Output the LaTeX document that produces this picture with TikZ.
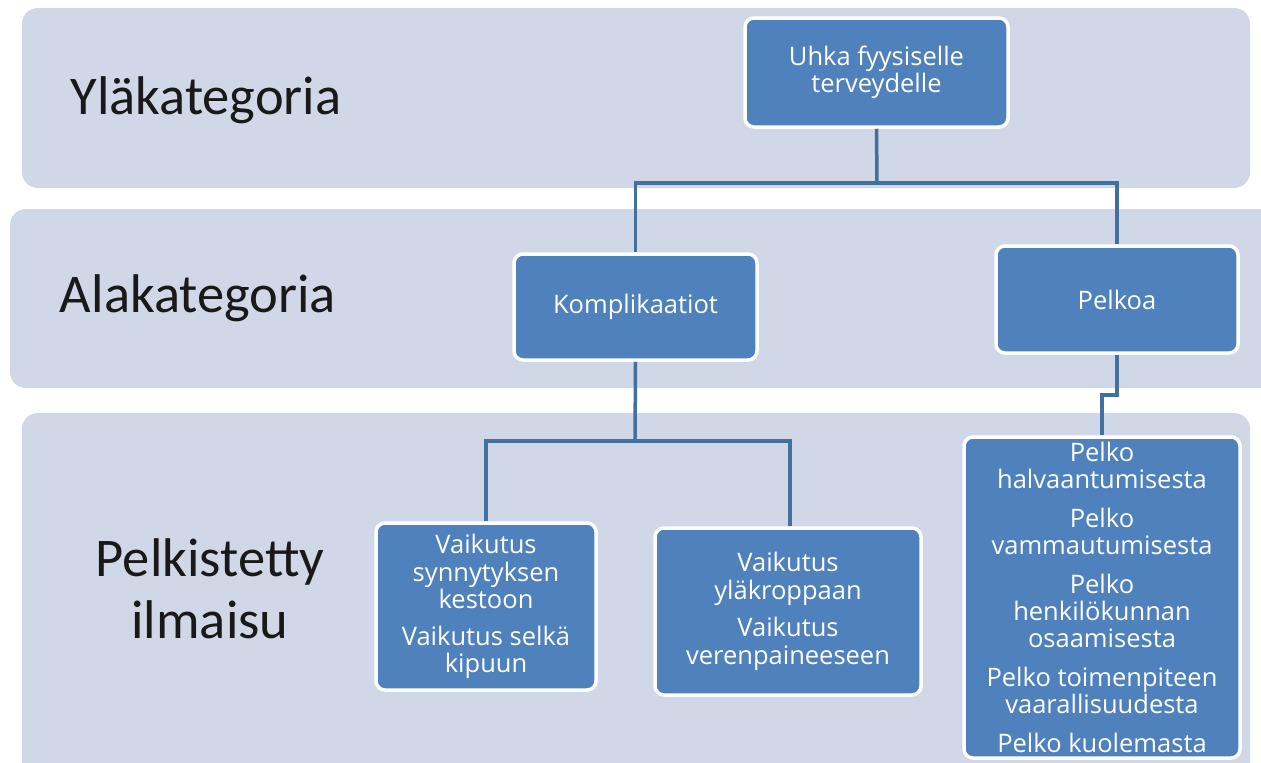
\documentclass[tikz,border=0pt]{standalone}
\usepackage{fontspec}
\setmainfont{Carlito}
\newfontfamily\boxfont{Open Sans}
\definecolor{band}{HTML}{D0D8E8}
\definecolor{boxblue}{HTML}{4F81BD}
\definecolor{conn}{HTML}{41719C}
\begin{document}
\begin{tikzpicture}[x=1pt,y=-1pt,
  bandstyle/.style={fill=band,draw=none,rounded corners=16pt},
  lvl/.style={font=\fontsize{54.5}{62}\selectfont,text=black!90,align=center,inner sep=0},
  bbox/.style={fill=boxblue,draw=white,line width=3.5pt,rounded corners=9pt,inner sep=0,
    text=white,align=center,font=\boxfont\fontsize{25.5}{27.5}\selectfont},
  link/.style={draw=conn,line width=3.5pt}]
\useasboundingbox (0,0) rectangle (1261,763);
\clip (0,0) rectangle (1261,763);
\fill[white] (0,0) rectangle (1261,763);
% bands
\path[bandstyle] (22,8) rectangle (1250,188);
\path[bandstyle] (10,209) rectangle (1285,388);
\path[bandstyle] (22,413) rectangle (1250,800);
% level labels
\node[lvl] (l1) at (206,100) {Yläkategoria};
\node[lvl] (l2) at (198,298) {Alakategoria};
\node[lvl,text width=300pt] (l3) at (210,589) {Pelkistetty\\ilmaisu};
% boxes
\node[bbox,minimum width=263pt,minimum height=109pt] (top) at (876.5,72.5) {Uhka fyysiselle\\terveydelle};
\node[bbox,minimum width=243pt,minimum height=106pt] (kom) at (635.5,307) {Komplikaatiot};
\node[bbox,minimum width=242pt,minimum height=107pt] (pel) at (1117,299.5) {Pelkoa};
\node[bbox,minimum width=220pt,minimum height=167pt] (b1) at (486,606.5)
  {Vaikutus\\synnytyksen\\kestoon\\[9pt]Vaikutus selkä\\kipuun};
\node[bbox,minimum width=266pt,minimum height=167pt] (b2) at (788,611.5)
  {Vaikutus\\yläkroppaan\\[10pt]Vaikutus\\verenpaineeseen};
\node[bbox,minimum width=276pt,minimum height=321pt] (b3) at (1102,597.5) {};
\node[text=white,align=center,inner sep=0,font=\boxfont\fontsize{25.5}{27}\selectfont] (b3t) at (b3.center)
  {Pelko\\halvaantumisesta\\[12pt]Pelko\\vammautumisesta\\[12pt]Pelko\\henkilökunnan\\osaamisesta\\[12pt]Pelko toimenpiteen\\vaarallisuudesta\\[12pt]Pelko kuolemasta};
% connectors
\coordinate (j1) at (877,183);
\coordinate (j2) at (635,441);
\draw[link] (top.south) -- (j1);
\draw[link] (kom.north) |- (j1) -| (pel.north);
\draw[link] (kom.south) -- (j2);
\draw[link] (b1.north) |- (j2) -| (b2.north -| 790,0);
\coordinate (k1) at (1117,395);
\coordinate (k2) at (1102,395);
\draw[link] (pel.south) -- (k1) -- (k2) -- (b3.north);
\end{tikzpicture}
\end{document}
